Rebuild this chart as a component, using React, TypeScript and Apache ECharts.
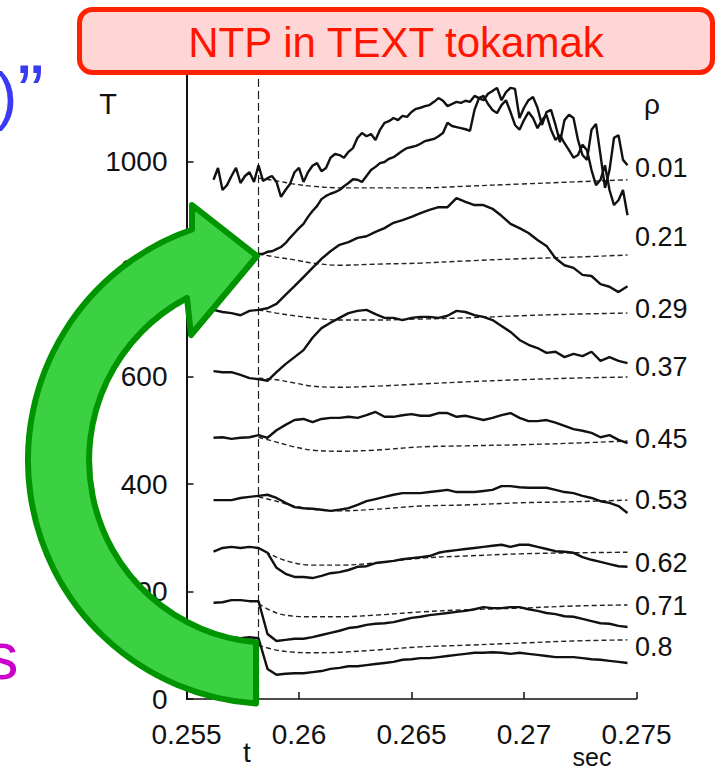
import { useEffect, useRef } from "react";
import * as echarts from "echarts";

const FONT = "'Liberation Sans', Arial, Helvetica, sans-serif";

// axis ticks / labels
const xTicks = [0.255, 0.26, 0.265, 0.27, 0.275];
const yTicks = [0, 200, 400, 600, 800, 1000];
const rhoLabels = ["0.01", "0.21", "0.29", "0.37", "0.45", "0.53", "0.62", "0.71", "0.8"];
const rhoLabelY = [168, 237, 309, 367, 439, 500, 563, 606, 647];
const tShot = 0.2582;
const tLineSpan = [0, 1160];

// sampling grids (seconds)
const fineTime = Array.from({ length: 93 }, (_, j) => +(0.2562 + j * 0.0002).toFixed(4));
const coarseTime = Array.from({ length: 47 }, (_, k) => +(0.2562 + k * 0.0004).toFixed(4));
const modelTime = [0.2582, 0.259, 0.2598, 0.2606, 0.2618, 0.2634, 0.2654, 0.2674, 0.2698, 0.2722, 0.2746];

// measured T (eV) — solid curves
const T001 = [966, 988, 947, 956, 973, 988, 960, 973, 980, 962, 993, 964, 969, 973, 962, 934, 947, 958, 980, 988,
  962, 980, 992, 997, 982, 988, 1007, 1014, 1012, 1007, 1018, 1025, 1044, 1053, 1047, 1051, 1040, 1059, 1072, 1075,
  1081, 1077, 1085, 1083, 1092, 1098, 1100, 1103, 1105, 1111, 1118, 1113, 1103, 1107, 1111, 1109, 1113, 1111, 1122, 1118,
  1114, 1126, 1131, 1137, 1114, 1129, 1137, 1135, 1081, 1100, 1114, 1120, 1100, 1068, 1092, 1096, 1068, 1036, 1077, 1087,
  1081, 1040, 1012, 1003, 1059, 1070, 1012, 951, 984, 1044, 1049, 1003, 993];
const T021 = [828, 828, 832, 833, 837, 841, 848, 858, 867, 876, 884, 897, 908, 917, 930, 936, 940, 943, 947, 954,
  960, 967, 966, 962, 973, 984, 990, 997, 999, 1005, 1008, 1014, 1020, 1025, 1027, 1029, 1033, 1038, 1040, 1042,
  1047, 1053, 1072, 1066, 1064, 1062, 1060, 1057, 1096, 1118, 1122, 1107, 1096, 1090, 1105, 1114, 1092, 1068, 1059, 1077,
  1092, 1081, 1062, 1077, 1087, 1059, 1040, 1049, 1034, 1021, 1007, 1012, 1031, 1021, 984, 956, 966, 993, 947, 919,
  928, 947, 900];
const T029 = [724, 720, 718, 714, 722, 724, 727, 735, 752, 768, 785, 802, 819, 833, 845, 850, 858, 861, 869, 876,
  886, 891, 897, 904, 910, 915, 915, 932, 925, 919, 919, 912, 899, 884, 876, 867, 854, 843, 820, 807,
  802, 789, 787, 772, 767, 757, 768];
const T037 = [610, 608, 608, 603, 597, 595, 592, 608, 623, 636, 649, 672, 690, 700, 709, 718, 722, 724, 716, 709,
  709, 705, 709, 711, 711, 709, 713, 722, 720, 714, 711, 705, 694, 683, 668, 659, 653, 644, 646, 636,
  642, 638, 646, 629, 636, 629, 625];
const T045 = [486, 487, 484, 486, 487, 491, 486, 500, 510, 519, 521, 515, 521, 523, 523, 525, 523, 528, 534, 525,
  525, 528, 530, 527, 527, 532, 532, 525, 527, 523, 519, 523, 528, 532, 523, 517, 517, 519, 514, 508,
  502, 499, 495, 487, 491, 482, 476];
const T053 = [370, 370, 370, 374, 376, 378, 380, 374, 365, 357, 355, 354, 352, 350, 352, 355, 361, 368, 372, 376,
  380, 383, 383, 383, 385, 387, 389, 385, 385, 385, 387, 389, 396, 396, 394, 393, 393, 393, 389, 385,
  383, 378, 374, 368, 365, 359, 346];
const T062 = [274, 281, 283, 281, 283, 281, 272, 244, 233, 227, 227, 225, 229, 234, 236, 240, 246, 247, 253, 255,
  257, 260, 262, 264, 266, 272, 275, 277, 279, 281, 283, 285, 287, 283, 287, 287, 283, 279, 275, 274,
  272, 264, 259, 255, 251, 247, 246];
const T071 = [179, 180, 184, 184, 182, 182, 121, 108, 110, 112, 112, 115, 119, 123, 127, 132, 134, 138, 140, 141,
  143, 147, 151, 153, 156, 158, 160, 162, 164, 167, 171, 169, 169, 171, 171, 167, 164, 160, 158, 154,
  153, 149, 145, 141, 140, 136, 134];
const T080 = [113, 113, 115, 113, 115, 113, 56, 45, 47, 48, 48, 50, 52, 56, 58, 61, 61, 63, 65, 67,
  69, 73, 74, 76, 76, 78, 80, 82, 84, 86, 86, 87, 86, 84, 86, 84, 82, 80, 78, 78,
  78, 76, 74, 73, 71, 69, 67];

// model T (dashed curves)
const M001 = [969, 964, 958, 954, 951, 951, 951, 954, 958, 962, 966];
const M021 = [828, 822, 817, 811, 807, 809, 811, 815, 819, 822, 826];
const M029 = [724, 718, 713, 709, 705, 705, 707, 709, 713, 716, 718];
const M037 = [597, 594, 588, 582, 580, 582, 586, 590, 594, 597, 599];
const M045 = [487, 478, 469, 463, 461, 463, 469, 471, 473, 476, 480];
const M053 = [376, 368, 359, 353, 350, 353, 359, 361, 365, 367, 370];
const M062 = [281, 264, 253, 249, 249, 253, 262, 266, 270, 272, 273];
const M071 = [177, 160, 154, 153, 153, 156, 162, 166, 169, 173, 175];
const M080 = [100, 91, 87, 86, 87, 91, 97, 100, 104, 108, 110];

const ARROW_D =
  "M 256 703.5 A 244 244 0 0 1 192 229.5 L 192 205 L 257 256 L 191 335 L 187 298 A 183 183 0 0 0 256 642.3 Z";

function solid(times: number[], vals: number[]) {
  return {
    type: "line",
    data: vals.map((v, i) => [times[i], v]),
    symbol: "none",
    silent: true,
    lineStyle: { color: "#111", width: 2.4 },
    z: 3,
  };
}
function dashed(vals: number[]) {
  return {
    type: "line",
    data: vals.map((v, i) => [modelTime[i], v]),
    symbol: "none",
    smooth: 0.35,
    silent: true,
    lineStyle: { color: "#222", width: 1.4, type: [5, 3] },
    z: 2,
  };
}

export default function App() {
  const ref = useRef<HTMLDivElement>(null);
  useEffect(() => {
    echarts.graphic.registerShape("bigArrow", echarts.graphic.extendPath(ARROW_D, {}));
    const chart = echarts.init(ref.current!, null, { renderer: "svg" });
    const option: any = {
      animation: false,
      backgroundColor: "#fff",
      grid: { left: 186.5, top: 75.5, width: 450, height: 623.5 },
      xAxis: {
        type: "value",
        min: 0.255,
        max: 0.275,
        interval: 0.005,
        axisLine: { show: true, onZero: false, lineStyle: { color: "#111", width: 1.5 } },
        axisTick: { show: true, inside: true, length: 7, lineStyle: { color: "#111", width: 1.5 } },
        axisLabel: {
          color: "#111",
          fontSize: 28,
          fontFamily: FONT,
          margin: 21,
          customValues: xTicks,
          formatter: (v: number) => String(+v.toFixed(3)),
        },
        splitLine: { show: false },
      },
      yAxis: {
        type: "value",
        min: 0,
        max: 1160,
        axisLine: { show: true, lineStyle: { color: "#111", width: 2 } },
        axisTick: { show: true, inside: true, length: 7, customValues: yTicks, lineStyle: { color: "#111", width: 1.5 } },
        axisLabel: {
          color: "#111",
          fontSize: 28,
          fontFamily: FONT,
          margin: 19,
          customValues: yTicks,
          formatter: (v: number) => String(Math.round(v)),
        },
        splitLine: { show: false },
      },
      series: [
        {
          type: "line",
          data: tLineSpan.map((v) => [tShot, v]),
          symbol: "none",
          silent: true,
          lineStyle: { color: "#222", width: 1.2, type: [8, 4] },
          z: 1,
        },
        solid(fineTime, T001),
        solid(fineTime.slice(10), T021),
        solid(coarseTime, T029),
        solid(coarseTime, T037),
        solid(coarseTime, T045),
        solid(coarseTime, T053),
        solid(coarseTime, T062),
        solid(coarseTime, T071),
        solid(coarseTime, T080),
        dashed(M001),
        dashed(M021),
        dashed(M029),
        dashed(M037),
        dashed(M045),
        dashed(M053),
        dashed(M062),
        dashed(M071),
        dashed(M080),
      ],
      graphic: [
        ...rhoLabels.map((s, i) => ({
          type: "text",
          x: 635,
          y: rhoLabelY[i],
          z: 50,
          style: { text: s, fontSize: 27, fontFamily: FONT, fill: "#111", align: "left", verticalAlign: "middle" },
        })),
        { type: "text", x: 652, y: 104, z: 50, style: { text: "ρ", fontSize: 28, fontFamily: FONT, fill: "#111", align: "center", verticalAlign: "middle" } },
        { type: "text", x: 108, y: 104, z: 50, style: { text: "T", fontSize: 29, fontFamily: FONT, fill: "#111", align: "center", verticalAlign: "middle" } },
        { type: "text", x: 247, y: 752, z: 50, style: { text: "t", fontSize: 28, fontFamily: FONT, fill: "#111", align: "center", verticalAlign: "middle" } },
        { type: "text", x: 592, y: 757, z: 50, style: { text: "sec", fontSize: 25, fontFamily: FONT, fill: "#111", align: "center", verticalAlign: "middle" } },
        {
          type: "text",
          x: -4,
          y: 96,
          z: 50,
          style: {
            text: "{p|)}{q|”}",
            align: "left",
            verticalAlign: "middle",
            rich: {
              p: { fontSize: 64, fontFamily: FONT, fill: "#3a3af5", lineHeight: 70 },
              q: { fontSize: 80, fontFamily: FONT, fill: "#3a3af5", lineHeight: 70, padding: [0, 0, 8, 0] },
            },
          },
        },
        { type: "text", x: -15, y: 655, z: 50, style: { text: "s", fontSize: 67, fontFamily: FONT, fill: "#cc00cc", align: "left", verticalAlign: "middle" } },
        {
          type: "rect",
          z: 100,
          shape: { x: 79.5, y: 9.5, width: 633, height: 63, r: 13 },
          style: { fill: "#ffd6d6", stroke: "#ff2200", lineWidth: 5 },
        },
        {
          type: "text",
          x: 396,
          y: 42,
          z: 101,
          style: { text: "NTP in TEXT tokamak", fontSize: 42, fontFamily: FONT, fill: "#ff1500", align: "center", verticalAlign: "middle" },
        },
        {
          type: "bigArrow",
          x: 0,
          y: 0,
          z: 100,
          style: { fill: "#3bd143", stroke: "#009400", lineWidth: 6, lineJoin: "round" },
        },
      ],
    };
    chart.setOption(option);
    return () => chart.dispose();
  }, []);
  return <div ref={ref} style={{ position: "fixed", left: 0, top: 0, width: 716, height: 773 }} />;
}
